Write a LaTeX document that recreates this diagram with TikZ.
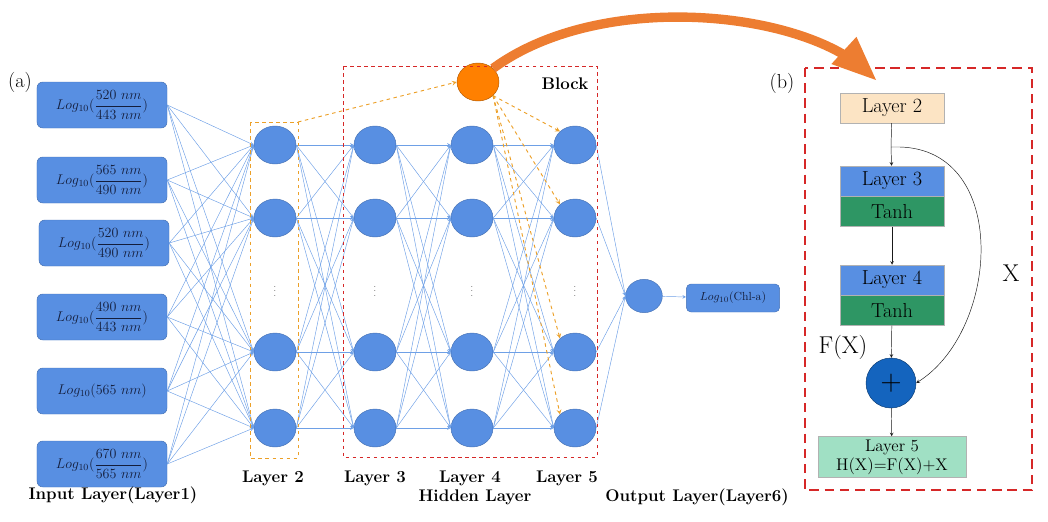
\documentclass[tikz,border=0pt]{standalone}
\usepackage{amsmath}
\usepackage{tikz}
\usetikzlibrary{arrows,shapes,positioning}
\definecolor{nblue}{RGB}{88,143,226}
\definecolor{lblue}{RGB}{110,160,230}
\definecolor{dred}{RGB}{214,40,40}
\definecolor{dorange}{RGB}{236,160,40}
\definecolor{bigorange}{RGB}{237,125,49}
\definecolor{lorange}{RGB}{252,228,196}
\definecolor{dgreen}{RGB}{46,150,100}
\definecolor{lgreen}{RGB}{160,224,196}
\definecolor{pblue}{RGB}{20,100,190}
\definecolor{navy}{RGB}{20,30,60}
\tikzset{
  inbox/.style={rectangle,rounded corners=5pt,fill=nblue,draw=nblue!80!black,minimum width=3.9cm,minimum height=1.38cm,inner sep=1pt,font=\large,text=navy},
  neuron/.style={ellipse,fill=nblue,draw=nblue!80!black,minimum width=1.26cm,minimum height=1.14cm,inner sep=0pt},
  conn/.style={->,>=stealth,lblue,thin},
  oconn/.style={->,>=stealth,dorange,dashed,thick},
  lab/.style={font=\bfseries\Large},
  rbox/.style={rectangle,minimum width=3.12cm,minimum height=0.9cm,draw=gray!60,inner sep=0pt,font=\LARGE},
}
\begin{document}
\begin{tikzpicture}[x=0.03cm,y=-0.03cm]
\useasboundingbox (0,0) rectangle (1048,521);
% input layer
\node[inbox] at (102,105) (i1) {$Log_{10}(\dfrac{520\ nm}{443\ nm})$};
\node[inbox] at (102,180) (i2) {$Log_{10}(\dfrac{565\ nm}{490\ nm})$};
\node[inbox] at (104,243) (i3) {$Log_{10}(\dfrac{520\ nm}{490\ nm})$};
\node[inbox] at (102,317) (i4) {$Log_{10}(\dfrac{490\ nm}{443\ nm})$};
\node[inbox] at (102,391) (i5) {$Log_{10}(565\ nm)$};
\node[inbox] at (102,464) (i6) {$Log_{10}(\dfrac{670\ nm}{565\ nm})$};
% hidden layers
\foreach \c/\x in {a/275,b/375,c/472,d/575}{
  \foreach \r/\y in {1/145,2/218,3/352,4/428}
    \node[neuron] at (\x,\y) (\c\r) {};
  \node[inner sep=0pt,font=\scriptsize] at (\x,288) (\c dots) {$\vdots$};
}
\node[neuron,minimum width=1.1cm,minimum height=1.0cm] at (644,296) (out) {};
\node[inbox,minimum width=2.8cm,minimum height=0.84cm,rounded corners=4pt,font=\normalsize] at (733,298) (res) {$Log_{10}$(Chl-a)};
\node[ellipse,fill=orange,draw=orange!70!black,minimum width=1.26cm,minimum height=1.14cm] at (478,82) (sk) {};
% connections
\foreach \i in {1,...,6}
  \foreach \j in {1,...,4}
    \draw[conn] (i\i.east) -- (a\j.west);
\foreach \p/\q in {a/b,b/c,c/d}
  \foreach \i in {1,...,4}
    \foreach \j in {1,...,4}
      \draw[conn] (\p\i.east) -- (\q\j.west);
\foreach \i in {1,...,4}
  \draw[conn] (d\i.east) -- (out.west);
\draw[conn] (out) -- (res);
% blocks
\draw[dorange,dashed,thick] (250,122) rectangle (298,458);
\draw[dred,dashed,thick] (343,66) rectangle (597,457);
\coordinate (bt) at (298,122);
\draw[oconn] (bt) -- (sk.west);
\foreach \j in {1,...,4}
  \draw[oconn] (sk.south east) -- (d\j.north west);
\node[lab] at (565,84) (blk) {Block};
\node[font=\LARGE] at (20,82) (pa) {(a)};
\node[lab] at (273,478) (l2) {Layer 2};
\node[lab] at (375,478) (l3) {Layer 3};
\node[lab] at (470,478) (l4) {Layer 4};
\node[lab] at (475,497) (hl) {Hidden Layer};
\node[lab] at (567,478) (l5) {Layer 5};
\node[lab] at (697,497) (ol) {Output Layer(Layer6)};
\node[lab] at (113,495) (il) {Input Layer(Layer1)};
% panel b
\draw[dred,dashed,very thick,dash pattern=on 8pt off 5pt] (805,68) rectangle (1032,490);
\node[font=\LARGE] at (782,83) (pb) {(b)};
\node[rbox,fill=lorange] at (892,108) (r2) {Layer 2};
\node[rbox,fill=nblue] at (892,181) (r3) {Layer 3};
\node[rbox,fill=dgreen,below=0pt of r3] (t3) {Tanh};
\node[rbox,fill=nblue] at (892,280) (r4) {Layer 4};
\node[rbox,fill=dgreen,below=0pt of r4] (t4) {Tanh};
\node[circle,fill=pblue,draw=pblue!60!black,minimum size=1.5cm,inner sep=0pt,font=\Huge] at (891,383) (plus) {$+$};
\node[rbox,fill=lgreen,minimum width=4.44cm,minimum height=1.23cm,align=center,font=\Large,inner sep=0pt] at (892,457) (r5) {Layer 5\\[-2pt]H(X)=F(X)+X};
\coordinate (sp) at (891,147);
\draw[gray!20!black] (r2) -- (sp);
\draw[->,>=stealth,gray!20!black] (sp) -- (r3);
\draw[->,>=stealth,gray!20!black] (t3) -- (r4);
\draw[->,>=stealth,gray!20!black] (t4) -- (plus);
\draw[->,>=stealth,gray!20!black] (plus) -- (r5);
\draw[->,>=stealth,gray!20!black] (sp) -- (900,147) .. controls (1010,150) and (1000,330) .. (plus.east);
\node[font=\huge] at (1011,273) (xl) {X};
\node[font=\huge] at (843,347) (fx) {F(X)};
% big arrow
\draw[bigorange,line width=8pt,-{triangle 45[scale=0.7]}] (sk.north east) .. controls (600,-10) and (800,10) .. (876,80);
\end{tikzpicture}
\end{document}
